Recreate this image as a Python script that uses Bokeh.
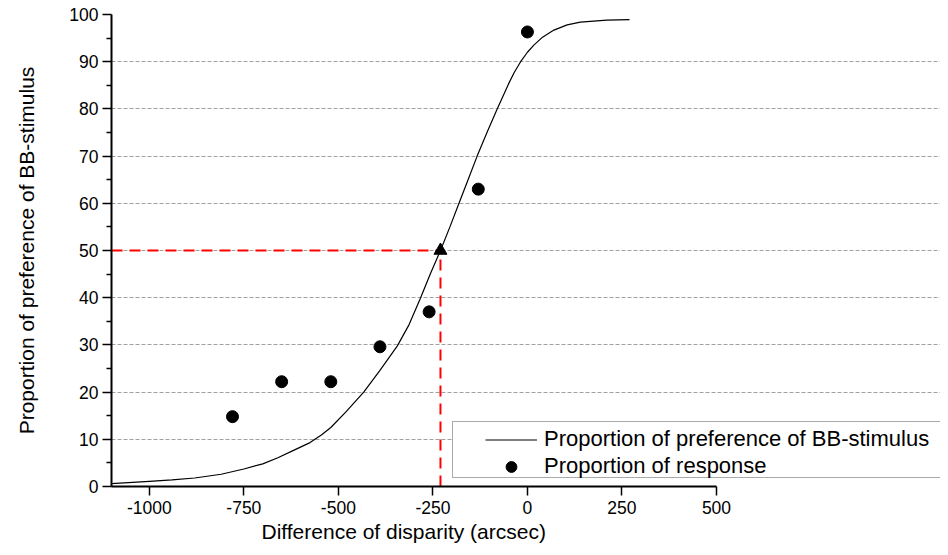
from bokeh.plotting import figure
from bokeh.models import Range1d, FixedTicker, Legend, LegendItem, Title
from bokeh.embed import file_html
from bokeh.resources import INLINE

# ---- data ----
curve_x = [-1100, -1000, -940, -880, -810, -750, -700, -660, -620, -575, -545, -520,
           -480, -433, -390, -344, -313, -283, -257, -230, -205, -181, -157, -133,
           -107, -80, -50, -35, -18, 0, 17, 40, 70, 105, 140, 210, 270]
curve_y = [0.6, 1.1, 1.4, 1.8, 2.6, 3.7, 4.8, 6.1, 7.6, 9.3, 10.9, 12.5,
           15.8, 20.0, 24.6, 29.8, 34.3, 39.9, 45.0, 50.0, 55.0, 60.0, 65.0, 70.0,
           75.0, 80.0, 85.3, 87.7, 90.0, 92.0, 93.5, 95.2, 96.7, 97.8, 98.4, 98.8, 98.9]

resp_x = [-780, -650, -520, -390, -260, -130, 0]
resp_y = [14.8, 22.2, 22.2, 29.6, 37.0, 63.0, 96.3]

thr_x = -230
thr_y = 50

x_ticks = [-1000, -750, -500, -250, 0, 250, 500]
x_tick_labels = ["-1000", "-750", "-500", "-250", "0", "250", "500"]
y_ticks = [0, 10, 20, 30, 40, 50, 60, 70, 80, 90, 100]
y_tick_labels = ["0", "10", "20", "30", "40", "50", "60", "70", "80", "90", "100"]
y_minor = [5, 15, 25, 35, 45, 55, 65, 75, 85, 95]
grid_levels = [10, 20, 30, 40, 50, 60, 70, 80, 90]

curve_label = "Proportion of preference of BB-stimulus"
resp_label = "Proportion of response"
x_title = "Difference of disparity (arcsec)"
y_title = "Proportion of preference of BB-stimulus"

FONT = "Liberation Sans"

X_START, X_AXIS_END = -1100, 500
# frame is widened to the right (for the legend); axis/grid are bounded to X_AXIS_END
X_VIEW_END = 1092.4

p = figure(width=940, height=547,
           x_range=Range1d(X_START, X_VIEW_END), y_range=Range1d(0, 100),
           output_backend="svg", toolbar_location=None,
           min_border_left=111, min_border_right=0,
           min_border_top=14, min_border_bottom=61)
p.outline_line_color = None
p.background_fill_color = "white"
p.border_fill_color = "white"

p.xgrid.visible = False
p.ygrid.ticker = FixedTicker(ticks=grid_levels)
p.ygrid.bounds = (X_START, X_AXIS_END)
p.ygrid.grid_line_color = "#a0a0a0"
p.ygrid.grid_line_dash = "4 2"
p.ygrid.grid_line_width = 1

p.xaxis.ticker = FixedTicker(ticks=x_ticks, minor_ticks=[])
p.xaxis.bounds = (X_START, X_AXIS_END)
p.yaxis.ticker = FixedTicker(ticks=y_ticks, minor_ticks=y_minor)
p.xaxis.major_label_overrides = {t: l for t, l in zip(x_ticks, x_tick_labels)}
p.yaxis.major_label_overrides = {t: l for t, l in zip(y_ticks, y_tick_labels)}

for ax in (p.xaxis[0], p.yaxis[0]):
    ax.axis_line_color = "black"
    ax.axis_line_width = 2
    ax.major_tick_line_color = "black"
    ax.minor_tick_line_color = "black"
    ax.major_tick_line_width = 1.5
    ax.minor_tick_line_width = 1.5
    ax.major_tick_in = 0
    ax.major_tick_out = 9
    ax.minor_tick_in = 0
    ax.minor_tick_out = 5
    ax.major_label_text_font = FONT
    ax.major_label_text_font_size = "17.5px"
    ax.major_label_text_color = "black"
    ax.axis_label_text_font = FONT
    ax.axis_label_text_font_size = "21px"
    ax.axis_label_text_font_style = "normal"
    ax.axis_label_text_color = "black"

p.yaxis.axis_label = y_title
p.xaxis.major_label_standoff = 5
p.yaxis.major_label_standoff = 4
p.yaxis.axis_label_standoff = 28

# x-axis title, centred under the bounded axis (not the widened frame)
xt = Title(text=x_title, align="left", offset=150, standoff=3,
           text_font=FONT, text_font_size="21px", text_font_style="normal",
           text_color="black")
p.add_layout(xt, "below")

# red dashed guide lines to the 50% point
p.line([X_START, thr_x], [thr_y, thr_y], line_color="red", line_width=2, line_dash="11 7")
p.line([thr_x, thr_x], [0, thr_y], line_color="red", line_width=2, line_dash="11 7")

r_curve = p.line(curve_x, curve_y, line_color="black", line_width=1.2)
r_pts = p.scatter(resp_x, resp_y, marker="circle", size=12, color="black")
p.scatter([thr_x], [thr_y], marker="triangle", size=13, color="black")

# legend frame (white box with border)
dummy = p.line([], [], line_alpha=0)
box = Legend(items=[LegendItem(label=" ", renderers=[dummy])],
             location=(341, 8), margin=0, padding=0, spacing=0,
             glyph_width=487, glyph_height=55, label_height=55,
             label_width=0, label_standoff=0,
             label_text_font_size="1px",
             border_line_color="#555555", border_line_width=1.5,
             background_fill_color="white", background_fill_alpha=1.0)
p.add_layout(box)

leg = Legend(items=[LegendItem(label=curve_label, renderers=[r_curve]),
                    LegendItem(label=resp_label, renderers=[r_pts])],
             location=(374, 6.5), margin=0, padding=0, spacing=0,
             glyph_width=52, glyph_height=27, label_height=27,
             label_standoff=7,
             label_text_font=FONT, label_text_font_size="22px",
             label_text_color="black",
             border_line_color=None, background_fill_alpha=0)
p.add_layout(leg)

open("out.html", "w").write(file_html(p, INLINE))
